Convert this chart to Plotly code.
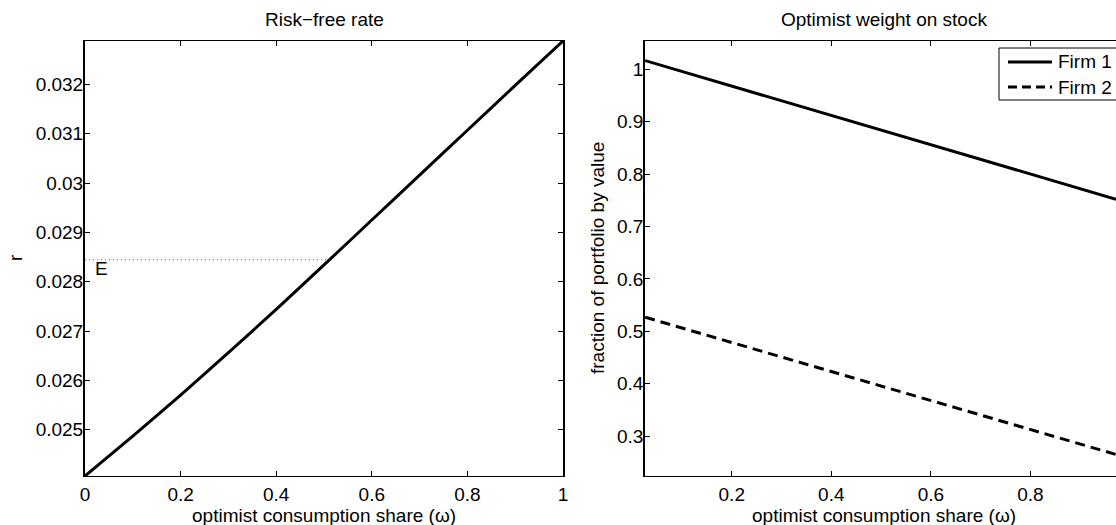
import plotly.graph_objects as go

# ---------------- data ----------------
omega = [0.0, 0.1, 0.2, 0.3, 0.4, 0.5, 0.6, 0.7, 0.8, 0.9, 1.0]
risk_free = [0.02406, 0.02487, 0.02570, 0.02656, 0.02744, 0.02834,
             0.02925, 0.03016, 0.03107, 0.03198, 0.03288]
eq_omega = [0.0, 0.512]
eq_rate = [0.028445, 0.028445]
eq_label = "E"

omega_w = [0.026, 0.2, 0.4, 0.6, 0.8, 0.972]
firm1 = [1.0166, 0.968, 0.912, 0.856, 0.800, 0.752]
firm2 = [0.5267, 0.4785, 0.4232, 0.3678, 0.3124, 0.2648]
series_names = ["Firm 1", "Firm 2"]

left_xticks = [0, 0.2, 0.4, 0.6, 0.8, 1]
left_xticktext = ["0", "0.2", "0.4", "0.6", "0.8", "1"]
left_yticks = [0.025, 0.026, 0.027, 0.028, 0.029, 0.030, 0.031, 0.032]
left_yticktext = ["0.025", "0.026", "0.027", "0.028", "0.029", "0.03", "0.031", "0.032"]
right_xticks = [0.2, 0.4, 0.6, 0.8]
right_xticktext = ["0.2", "0.4", "0.6", "0.8"]
right_yticks = [0.3, 0.4, 0.5, 0.6, 0.7, 0.8, 0.9, 1.0]
right_yticktext = ["0.3", "0.4", "0.5", "0.6", "0.7", "0.8", "0.9", "1"]

titles = ["Risk\u2212free rate", "Optimist weight on stock"]
xlabel = "optimist consumption share (\u03c9)"
ylabels = ["r", "fraction of portfolio by value"]

# ---------------- layout geometry (pixels) ----------------
W, H = 1116, 525
ML, MR, MT, MB = 85, 0, 41, 49
PW = W - ML - MR
PH = H - MT - MB
FONT = "Liberation Sans, Arial, Helvetica, sans-serif"
FS = 19


def px_x(px):
    return (px - ML) / PW


def px_y(py):
    return (H - MB - py) / PH


fig = go.Figure()

fig.add_trace(go.Scatter(x=omega, y=risk_free, mode="lines",
                         line=dict(color="black", width=3, shape="spline", smoothing=0.6),
                         xaxis="x", yaxis="y", showlegend=False, name="r"))
fig.add_trace(go.Scatter(x=eq_omega, y=eq_rate, mode="lines",
                         line=dict(color="#666666", width=1, dash="1px,3px"),
                         xaxis="x", yaxis="y", showlegend=False, name="E"))
fig.add_trace(go.Scatter(x=omega_w, y=firm1, mode="lines",
                         line=dict(color="black", width=3),
                         xaxis="x2", yaxis="y2", showlegend=False, name=series_names[0]))
fig.add_trace(go.Scatter(x=omega_w, y=firm2, mode="lines",
                         line=dict(color="black", width=3, dash="10px,6px"),
                         xaxis="x2", yaxis="y2", showlegend=False, name=series_names[1]))

axis_common = dict(showgrid=False, zeroline=False, showline=True, linecolor="black",
                   ticks="inside", ticklen=5, tickcolor="black", tickwidth=1,
                   tickfont=dict(family=FONT, size=FS, color="black"), tickmode="array")

d1 = [0, px_x(563)]
d2 = [px_x(645), 1.0]

fig.update_layout(
    width=W, height=H,
    margin=dict(l=ML, r=MR, t=MT, b=MB, autoexpand=False),
    paper_bgcolor="white", plot_bgcolor="white",
    showlegend=False,
    font=dict(family=FONT, size=FS, color="black"),
    xaxis=dict(axis_common, domain=d1, range=[0, 1], anchor="y", mirror="ticks",
               tickvals=left_xticks, ticktext=left_xticktext, linewidth=1,
               ticklabelstandoff=1),
    yaxis=dict(axis_common, domain=[0, 1], range=[0.02406, 0.03288], anchor="x",
               mirror="ticks", tickvals=left_yticks, ticktext=left_yticktext,
               linewidth=2, ticklabelstandoff=-4),
    xaxis2=dict(axis_common, domain=d2, range=[0.0257, 0.972], anchor="y2", mirror="ticks",
                tickvals=right_xticks, ticktext=right_xticktext, linewidth=1,
                ticklabelstandoff=1),
    yaxis2=dict(axis_common, domain=[0, 1], range=[0.2237, 1.054], anchor="x2",
                mirror=False, tickvals=right_yticks, ticktext=right_yticktext,
                linewidth=1.5, ticklabelstandoff=-4),
)

ann = []
ann.append(dict(text=titles[0], x=px_x(324), y=px_y(20), xref="paper", yref="paper",
                showarrow=False, xanchor="center", yanchor="middle"))
ann.append(dict(text=titles[1], x=px_x(884), y=px_y(20), xref="paper", yref="paper",
                showarrow=False, xanchor="center", yanchor="middle"))
ann.append(dict(text=xlabel, x=px_x(324), y=px_y(515), xref="paper", yref="paper",
                showarrow=False, xanchor="center", yanchor="middle"))
ann.append(dict(text=xlabel, x=px_x(884), y=px_y(515), xref="paper", yref="paper",
                showarrow=False, xanchor="center", yanchor="middle"))
ann.append(dict(text=ylabels[0], x=px_x(15), y=px_y(258), xref="paper", yref="paper",
                showarrow=False, xanchor="center", yanchor="middle", textangle=-90))
ann.append(dict(text=ylabels[1], x=px_x(597), y=px_y(258), xref="paper", yref="paper",
                showarrow=False, xanchor="center", yanchor="middle", textangle=-90))
ann.append(dict(text=eq_label, x=eq_omega[0], y=eq_rate[0], xref="x", yref="y",
                showarrow=False, xanchor="left", yanchor="top", xshift=8, yshift=4,
                font=dict(family=FONT, size=FS, color="black")))

shapes = []
shapes.append(dict(type="rect", xref="paper", yref="paper",
                   x0=px_x(999), x1=px_x(1140), y0=px_y(100), y1=px_y(48),
                   line=dict(color="black", width=1), fillcolor="white", layer="above"))
legend_rows = [62, 87]
legend_dash = ["solid", "9px,5px"]
for name, ry, dsh in zip(series_names, legend_rows, legend_dash):
    shapes.append(dict(type="line", xref="paper", yref="paper",
                       x0=px_x(1008), x1=px_x(1052), y0=px_y(ry), y1=px_y(ry),
                       line=dict(color="black", width=3, dash=dsh), layer="above"))
    ann.append(dict(text=name, x=px_x(1056), y=px_y(ry), xref="paper", yref="paper",
                    showarrow=False, xanchor="left", yanchor="middle"))

fig.update_layout(annotations=ann, shapes=shapes)

fig.write_html("out.html", config={"displayModeBar": False},
               post_script="document.body.style.margin='0px';document.body.style.overflow='hidden';")
